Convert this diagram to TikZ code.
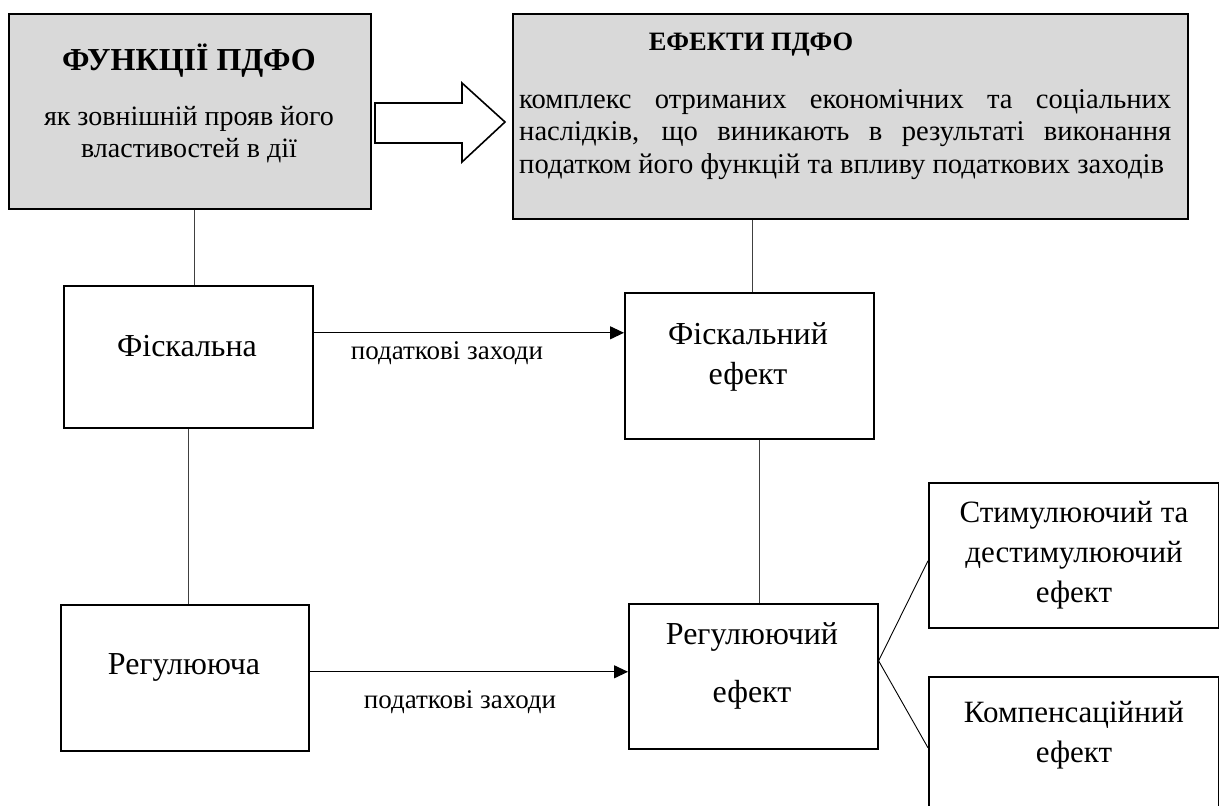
\documentclass[tikz,border=0pt]{standalone}
\usepackage{fontspec}
\setmainfont{Liberation Serif}
\usetikzlibrary{arrows.meta,calc}
\definecolor{boxgray}{HTML}{D9D9D9}
\definecolor{linegray}{HTML}{404040}
\begin{document}
\begin{tikzpicture}[x=1pt,y=-1pt,
  box/.style={draw=black, line width=1.6pt, anchor=north west, inner sep=0pt, fill=white},
  graybox/.style={box, fill=boxgray},
  conn/.style={draw=linegray, line width=1.1pt},
  arr/.style={draw=black, line width=1.1pt, -{Triangle[length=14pt,width=13pt]}},
  diag/.style={draw=black, line width=0.9pt},
  txt/.style={align=center, inner sep=0pt, font=\fontsize{32}{40}\selectfont},
  lab/.style={inner sep=0pt, font=\fontsize{27}{30}\selectfont},
]
\useasboundingbox (0,0) rectangle (1219,806);
% top grey boxes
\node[graybox, minimum width=362pt, minimum height=195pt] (fun) at (8,13) {};
\node[graybox, minimum width=675pt, minimum height=205pt] (eff) at (512,13) {};
\node[txt, font=\bfseries\fontsize{32}{38}\selectfont] (funT) at (189,61) {ФУНКЦІЇ ПДФО};
\node[txt, font=\fontsize{28}{32}\selectfont] (funS) at (189,135) {як зовнішній прояв його\\властивостей в дії};
\node[txt, font=\bfseries\fontsize{26.5}{32}\selectfont] (effT) at (751,45) {ЕФЕКТИ ПДФО};
\node[anchor=north west, inner sep=0pt, text width=652pt, align=justify,
      font=\fontsize{28.6}{32.5}\selectfont] (effS) at (519,89)
  {комплекс отриманих економічних та соціальних\linebreak
   наслідків, що виникають в результаті виконання\linebreak
   податком його функцій та впливу податкових заходів};
% block arrow
\draw[line width=1.6pt, fill=white] (375,103) -- (462,103) -- (462,83) -- (505,122)
  -- (462,162) -- (462,143) -- (375,143) -- cycle;
% white boxes
\node[box, minimum width=249pt, minimum height=142pt] (fisk) at (63,285) {};
\node[box, minimum width=248pt, minimum height=146pt] (reg) at (60,604) {};
\node[box, minimum width=249pt, minimum height=146pt] (fe) at (624,292) {};
\node[box, minimum width=249pt, minimum height=145pt] (re) at (628,603) {};
\node[box, minimum width=290pt, minimum height=145pt] (stim) at (928,482) {};
\node[box, minimum width=290pt, minimum height=154pt] (komp) at (928,676) {};
\node[txt] (fiskT) at (187,346) {Фіскальна};
\node[txt] (regT) at (184,667) {Регулююча};
\node[txt] (feT) at (748,357) {Фіскальний\\ефект};
\node[txt, font=\fontsize{32}{58}\selectfont] (reT) at (752,666) {Регулюючий\\ефект};
\node[txt, font=\fontsize{31}{40}\selectfont] (stimT) at (1074,555) {Стимулюючий та\\дестимулюючий\\ефект};
\node[txt, font=\fontsize{31}{40}\selectfont] (kompT) at (1074,735) {Компенсаційний\\ефект};
% connectors
\coordinate (c1) at ([xshift=5pt]fun.south);
\draw[conn] (c1) -- (c1 |- fisk.north);
\draw[conn] (fisk.south) -- (fisk.south |- reg.north);
\coordinate (c2) at ([xshift=3pt]fe.north);
\draw[conn] (c2) -- (c2 |- eff.south);
\coordinate (c3) at ([xshift=10.5pt]fe.south);
\draw[conn] (c3) -- (c3 |- re.north);
\coordinate (a1) at ([yshift=24pt]fisk.east);
\draw[arr] (a1) -- (a1 -| fe.west);
\coordinate (a2) at ([yshift=6pt]reg.east);
\draw[arr] (a2) -- (a2 -| re.west);
\node[lab] (l1) at (447,353) {податкові заходи};
\node[lab] (l2) at (460,702) {податкові заходи};
\coordinate (d0) at ([yshift=15.5pt]re.east);
\coordinate (d1) at ([yshift=-5.5pt]stim.west);
\coordinate (d2) at ([yshift=6pt]komp.west);
\draw[diag] (d0) -- (d1);
\draw[diag] (d0) -- (d2);
\end{tikzpicture}
\end{document}
